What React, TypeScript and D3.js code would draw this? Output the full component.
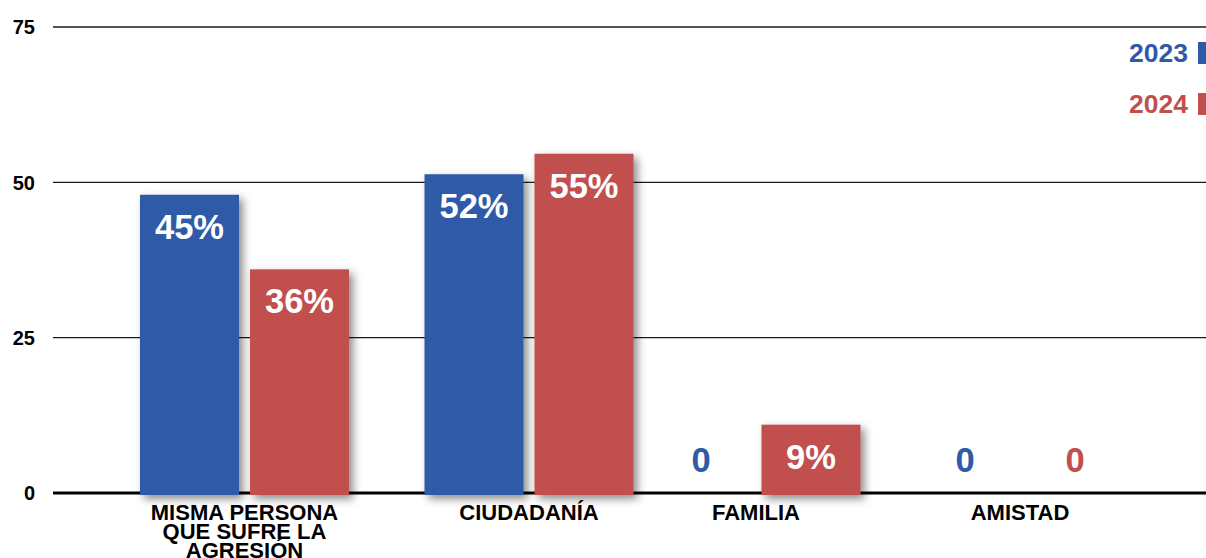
import React from "react";
import * as d3 from "d3";

const categories = ["MISMA PERSONA\nQUE SUFRE LA\nAGRESIÓN", "CIUDADANÍA", "FAMILIA", "AMISTAD"];
const series = ["2023", "2024"];
const values2023 = [48, 51.3, 0, 0];
const values2024 = [36, 54.6, 11, 0];
const labels2023 = ["45%", "52%", "0", "0"];
const labels2024 = ["36%", "55%", "9%", "0"];
const yTicks = [0, 25, 50, 75];
const colors = ["#2F5AA8", "#C0504D"];

const W = 1206;
const H = 558;
const FONT = "'Liberation Sans', Arial, sans-serif";

export default function App() {
  const y = d3.scaleLinear().domain([0, 75]).range([493, 27]);
  const xc = d3
    .scaleLinear()
    .domain(categories.map((_, i) => i))
    .range([244.5, 529, 756, 1020]);
  const x1 = d3.scaleBand().domain(series).range([-104.5, 104.5]).paddingInner(0.1);
  const data = [values2023, values2024];
  const labels = [labels2023, labels2024];
  const gridLeft = 53;

  return (
    <svg
      width={W}
      height={H}
      style={{ position: "absolute", left: 0, top: 0, display: "block", background: "#fff" }}
      fontFamily={FONT}
      fontWeight="bold"
    >
      <defs>
        <filter id="shadow" x="-20%" y="-20%" width="150%" height="150%">
          <feDropShadow dx="4" dy="4" stdDeviation="4.5" floodColor="#000" floodOpacity="0.45" />
        </filter>
      </defs>
      {yTicks.map((t) => (
        <g key={t}>
          <line
            x1={gridLeft}
            x2={W}
            y1={y(t)}
            y2={y(t)}
            stroke={t === 0 ? "#000" : "#1a1a1a"}
            strokeWidth={t === 0 ? 3 : 1.4}
          />
          <text x={35} y={y(t)} dy="0.36em" textAnchor="end" fontSize={20} fill="#000">
            {t}
          </text>
        </g>
      ))}
      {series.map((s, si) =>
        categories.map((c, ci) => {
          const v = data[si][ci];
          const bx = xc(ci) + (x1(s) as number);
          const bw = x1.bandwidth();
          if (v <= 0) {
            return (
              <text
                key={s + c}
                x={bx + bw / 2}
                y={y(0) - 21}
                textAnchor="middle"
                fontSize={34.5}
                fill={colors[si]}
              >
                {labels[si][ci]}
              </text>
            );
          }
          return (
            <g key={s + c}>
              <rect
                x={bx}
                y={y(v)}
                width={bw}
                height={y(0) - y(v) + 2}
                fill={colors[si]}
                filter="url(#shadow)"
              />
              <text
                x={bx + bw / 2}
                y={y(v) + 44}
                textAnchor="middle"
                fontSize={34.5}
                fill="#fff"
              >
                {labels[si][ci]}
              </text>
            </g>
          );
        })
      )}
      {categories.map((c, ci) => (
        <text key={c} x={xc(ci)} y={520} textAnchor="middle" fontSize={22} fill="#000">
          {c.split("\n").map((line, li) => (
            <tspan key={li} x={xc(ci)} dy={li === 0 ? 0 : 19}>
              {line}
            </tspan>
          ))}
        </text>
      ))}
      {series.map((s, si) => (
        <g key={s}>
          <text x={1188} y={62 + si * 51} textAnchor="end" fontSize={26.5} fill={colors[si]}>
            {s}
          </text>
          <rect x={1198} y={42 + si * 51} width={10} height={22} fill={colors[si]} />
        </g>
      ))}
    </svg>
  );
}
